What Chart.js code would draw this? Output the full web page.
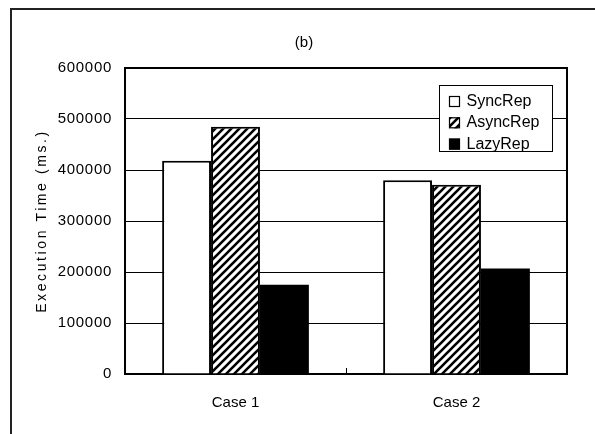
<!DOCTYPE html>
<html><head><meta charset="utf-8">
<script src="https://cdn.jsdelivr.net/npm/chart.js@4"></script>
<style>html,body{margin:0;padding:0;background:#fff}</style>
</head><body>
<canvas id="c" width="595" height="434" style="display:block;width:595px;height:434px"></canvas>
<script>
const categories = ['Case 1', 'Case 2'];
const seriesNames = ['SyncRep', 'AsyncRep', 'LazyRep'];
const syncRep = [418000, 380000];
const asyncRep = [485000, 371000];
const lazyRep = [175000, 207000];
const yTicks = [0, 100000, 200000, 300000, 400000, 500000, 600000];
const chartTitle = '(b)';
const yTitle = 'Execution Time (ms.)';

const FONT = "'Liberation Sans', Arial, sans-serif";

function hatch() {
  const s = 8, c = document.createElement('canvas');
  c.width = s; c.height = s;
  const g = c.getContext('2d');
  g.fillStyle = '#fff'; g.fillRect(0, 0, s, s);
  g.strokeStyle = '#000'; g.lineWidth = 2.6;
  g.beginPath();
  g.moveTo(-1, s + 1); g.lineTo(s + 1, -1);
  g.moveTo(-2, 2); g.lineTo(2, -2);
  g.moveTo(s - 2, s + 2); g.lineTo(s + 2, s - 2);
  g.stroke();
  return g.createPattern(c, 'repeat');
}
const hatchPattern = hatch();

function spaced(fn, sp) {
  return function () {
    const c = this.ctx; c.save(); c.letterSpacing = sp; fn.call(this); c.restore();
  };
}

const deco = {
  id: 'deco',
  afterLayout(chart) {
    const y = chart.scales.y;
    if (y && !y._patched) {
      y._patched = true;
      y.drawTitle = spaced(y.drawTitle, '2.6px');
      y.drawLabels = spaced(y.drawLabels, '0.7px');
    }
    const t = chart.titleBlock;
    if (t) { t.right = chart.width + 2; t.width = t.right - t.left; }
  },
  beforeDraw(chart) {
    const ctx = chart.ctx;
    ctx.save();
    ctx.fillStyle = '#fff'; ctx.fillRect(0, 0, chart.width, chart.height);
    ctx.strokeStyle = '#222'; ctx.lineWidth = 2;
    ctx.beginPath(); ctx.moveTo(11, chart.height); ctx.lineTo(11, 9); ctx.lineTo(chart.width, 9); ctx.stroke();
    ctx.restore();
  },
  afterDatasetsDraw(chart) {
    const ctx = chart.ctx, a = chart.chartArea;
    ctx.save();
    ctx.strokeStyle = '#000'; ctx.lineWidth = 2;
    ctx.beginPath(); ctx.moveTo(a.left, a.top); ctx.lineTo(a.right, a.top); ctx.lineTo(a.right, a.bottom); ctx.stroke();
    // legend
    const bx = a.right - 128, by = a.top + 17, bw = 113, bh = 66;
    ctx.fillStyle = '#fff'; ctx.fillRect(bx, by, bw, bh);
    ctx.lineWidth = 1; ctx.strokeStyle = '#000';
    ctx.strokeRect(bx + 0.5, by + 0.5, bw, bh);
    ctx.font = '16px ' + FONT; ctx.textBaseline = 'middle'; ctx.textAlign = 'left';
    chart.data.datasets.forEach((ds, i) => {
      const cy = by + 16 + i * 21.3;
      ctx.fillStyle = ds.backgroundColor;
      ctx.fillRect(bx + 10, cy - 5, 11, 11);
      ctx.lineWidth = 1.2; ctx.strokeStyle = '#000';
      ctx.strokeRect(bx + 10.5, cy - 4.5, 10, 10);
      ctx.fillStyle = '#000';
      ctx.fillText(ds.label, bx + 27.5, cy + 0.5);
    });
    ctx.restore();
  }
};

new Chart(document.getElementById('c'), {
  type: 'bar',
  data: {
    labels: categories,
    datasets: [
      { label: seriesNames[0], data: syncRep, backgroundColor: '#fff', borderColor: '#000', borderWidth: 2 },
      { label: seriesNames[1], data: asyncRep, backgroundColor: hatchPattern, borderColor: '#000', borderWidth: 2 },
      { label: seriesNames[2], data: lazyRep, backgroundColor: '#000', borderColor: '#000', borderWidth: 0 }
    ]
  },
  options: {
    responsive: false,
    animation: false,
    devicePixelRatio: 1,
    layout: { padding: { left: 11, right: 28, top: 0, bottom: 0 } },
    datasets: { bar: { categoryPercentage: 0.664, barPercentage: 1 } },
    plugins: {
      legend: { display: false },
      tooltip: { enabled: false },
      title: {
        display: true, text: chartTitle, color: '#000',
        font: { family: FONT, size: 15, weight: 'normal' },
        padding: { top: 34, bottom: 16 }
      }
    },
    scales: {
      x: {
        grid: { drawOnChartArea: false, drawTicks: true, tickLength: -6, color: '#000', lineWidth: 1 },
        border: { display: true, color: '#000', width: 2 },
        ticks: { color: '#000', font: { family: FONT, size: 15 }, padding: 26 },
        afterFit(s) { s.height = 60; }
      },
      y: {
        min: 0, max: 600000,
        afterBuildTicks(s) { s.ticks = yTicks.map(v => ({ value: v })); },
        grid: { color: '#000', lineWidth: 1, drawTicks: false },
        border: { display: true, color: '#000', width: 2 },
        ticks: { color: '#000', font: { family: FONT, size: 15 }, padding: 13, callback: v => String(v) },
        title: { display: true, text: yTitle, color: '#000', font: { family: FONT, size: 14 }, padding: { top: 23, bottom: 0 } },
        afterFit(s) { s.width = 114; }
      }
    }
  },
  plugins: [deco]
});
</script>
</body></html>
